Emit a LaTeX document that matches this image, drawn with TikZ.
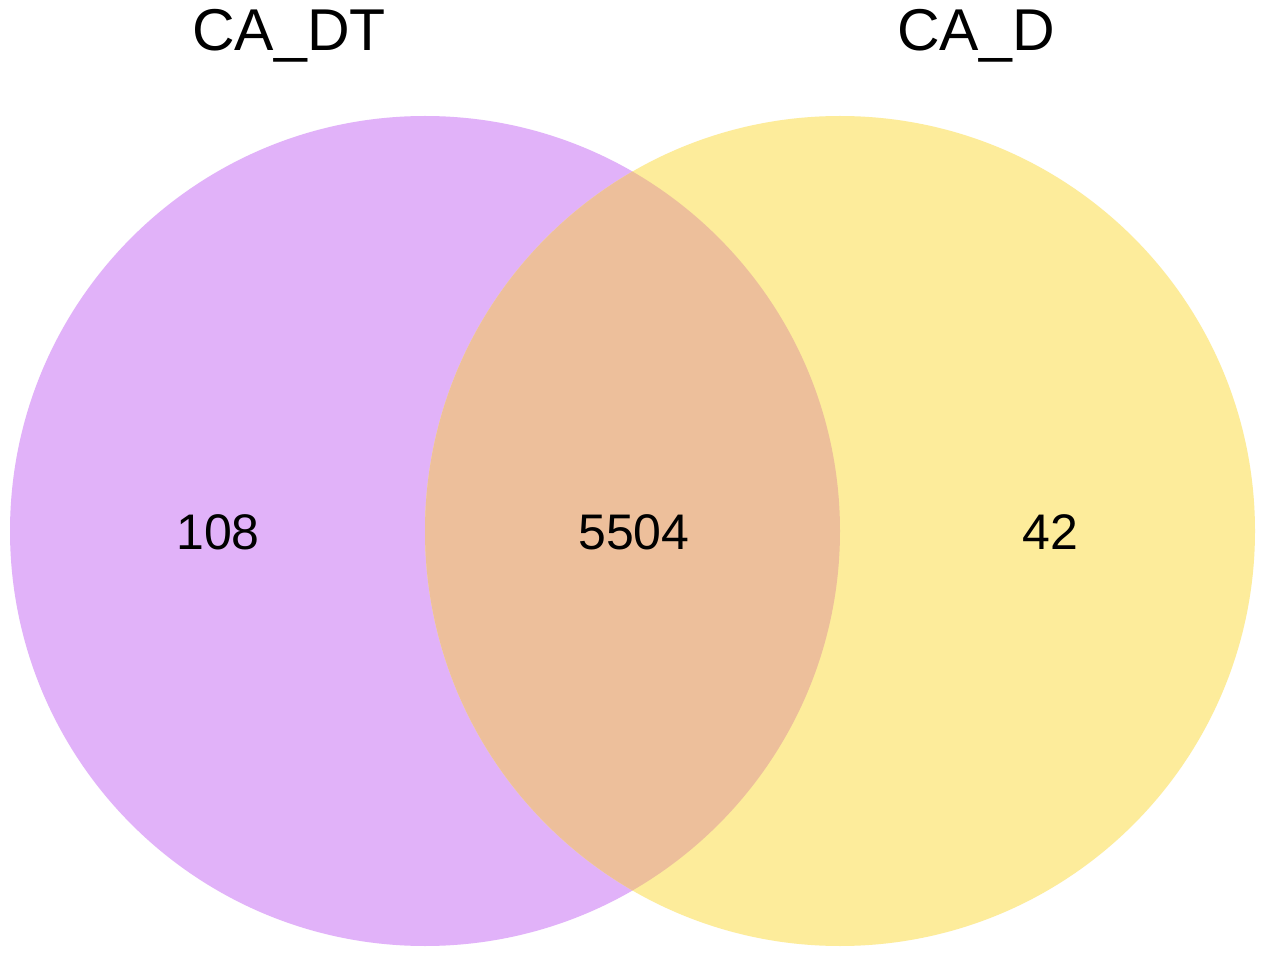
\documentclass[tikz,border=0pt]{standalone}
\usepackage{fontspec}
\setmainfont{Liberation Sans}
\definecolor{cpurple}{HTML}{E1B2F9}
\definecolor{cyellow}{HTML}{FDEC9B}
\definecolor{cover}{HTML}{EDBF9B}
\begin{document}
\begin{tikzpicture}[x=1pt,y=-1pt,
  lab/.style={font=\fontsize{59}{62}\selectfont, inner sep=0pt, anchor=base},
  num/.style={font=\fontsize{50}{54}\selectfont, inner sep=0pt, anchor=base}]
\useasboundingbox (0,0) rectangle (1267,957);
\fill[white] (0,0) rectangle (1267,957);
\coordinate (c1) at (425,531);
\coordinate (c2) at (840,531);
\fill[cpurple] (c1) circle[radius=415];
\fill[cyellow] (c2) circle[radius=415];
\begin{scope}
  \clip (c1) circle[radius=415];
  \fill[cover] (c2) circle[radius=415];
\end{scope}
\node[lab] (t1) at (289,51) {CA\_DT};
\node[lab] (t2) at (976,51) {CA\_D};
\node[num] (n1) at (218,549) {108};
\node[num] (n2) at (634,549) {5504};
\node[num] (n3) at (1050,549) {42};
\end{tikzpicture}
\end{document}
